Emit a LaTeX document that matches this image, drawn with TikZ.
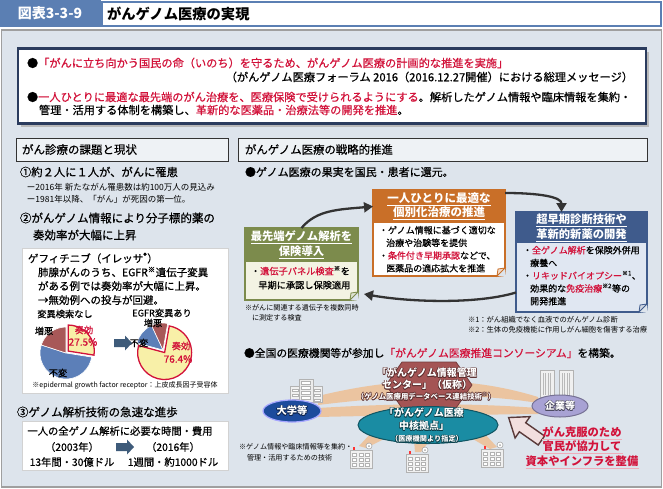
\documentclass[tikz,border=0pt]{standalone}
\usepackage{fontspec}
\setmainfont{Noto Sans CJK JP}
\newfontfamily\jm{Noto Sans CJK JP}[FakeBold=0.6]
\usetikzlibrary{arrows.meta,shapes.geometric,calc}
\definecolor{hdrblue}{HTML}{5B7FB3}
\definecolor{panelbg}{HTML}{DDE4EC}
\definecolor{jred}{HTML}{D2123A}
\definecolor{navy}{HTML}{2B3C5E}
\definecolor{orangeH}{HTML}{C96F28}
\definecolor{greenH}{HTML}{7C8B4C}
\definecolor{greenB}{HTML}{F3F3E3}
\definecolor{blueH}{HTML}{3F5B8C}
\definecolor{blueB}{HTML}{E0E7F2}
\definecolor{pieY}{HTML}{F8F0A8}
\definecolor{pieR}{HTML}{A85858}
\definecolor{pieB}{HTML}{5C7FB8}
\definecolor{arrowBlue}{HTML}{3E5B7A}
\definecolor{band}{HTML}{EBC4A0}
\definecolor{hexR}{HTML}{A45454}
\definecolor{tealC}{HTML}{1A8CA3}
\definecolor{uniBlue}{HTML}{1C4B9C}
\definecolor{corpP}{HTML}{A8A2D4}
\definecolor{pinkA}{HTML}{F2DEDE}
\definecolor{brownA}{HTML}{5A3A3A}
\newcommand{\jfs}[1]{\fontsize{#1}{#1}\selectfont}
\newcommand{\jf}[1]{\jm\fontsize{#1}{#1}\selectfont}
\newcommand{\olnode}[5]{%
  \foreach \dx/\dy in {0.6/0,-0.6/0,0/0.6,0/-0.6,0.45/0.45,-0.45/0.45,0.45/-0.45,-0.45/-0.45}{
    \node[font=#4, text=#3, inner sep=0pt, align=center] at ($(#2)+(\dx pt,\dy pt)$) {#5};}
  \node[font=#4, text=white, inner sep=0pt, align=center] (#1) at (#2) {#5};}
\tikzset{
  every node/.style={inner sep=0pt, outer sep=0pt},
  lbl/.style={anchor=west},
  curvearr/.style={draw=black!80, line width=2.3pt, -{Triangle[length=9pt,width=10pt]}},
  whitebox/.style={fill=white, draw=gray!35, line width=0.6pt, anchor=north west},
  blockarr/.pic={
    \fill[arrowBlue] (-9,-4) -- (2,-4) -- (2,-7.5) -- (9,0) -- (2,7.5) -- (2,4) -- (-9,4) -- cycle;
  },
  hosp/.pic={
    \filldraw[fill=gray!12, draw=gray!60, line width=0.5pt] (-11,-8) rectangle (11,10);
    \foreach \i in {-6.5,0,6.5}{\foreach \j in {-3.5,1.5,6.5}{
      \filldraw[fill=white, draw=gray!60, line width=0.3pt] (\i-2,\j-1.5) rectangle (\i+2,\j+1.5);}}
    \filldraw[fill=white, draw=gray!70, line width=0.6pt] (8,-12) circle[radius=3pt];
    \fill[gray!70] (8,-12) circle[radius=1pt];
    \fill[red!80] (-8,-11) rectangle (-6,-8);
  }
}
\begin{document}
\begin{tikzpicture}[x=1pt,y=-1pt]
\useasboundingbox (0,0) rectangle (663,488);
\fill[white] (0,0) rectangle (663,488);
% header
\node[fill=hdrblue, minimum width=101pt, minimum height=27pt, anchor=north west] (hdrL) at (0,0) {};
\node[font=\bfseries\jfs{14}, text=white] (hdrLt) at (50,13.5) {図表3-3-9};
\node[draw=hdrblue, line width=2pt, fill=white, minimum width=559pt, minimum height=24pt, anchor=north west] (hdrR) at (102,1.5) {};
\node[lbl, font=\bfseries\jfs{14.3}] (title) at (107,14) {がんゲノム医療の実現};
% panel
\node[fill=panelbg, draw=gray!75, line width=1.6pt, minimum width=660pt, minimum height=457pt, anchor=north west] (panel) at (1.5,30) {};
% top box
\fill[gray!55] (21,51.5) rectangle (649,126.5);
\node[draw=navy, line width=2.5pt, fill=white, minimum width=628pt, minimum height=75pt, anchor=north west] (topbox) at (18,48.5) {};
\node[lbl, font=\jf{11.2}] (m1) at (27,63) {●\textcolor{jred}{「がんに立ち向かう国民の命（いのち）を守るため、がんゲノム医療の計画的な推進を実施」}};
\node[anchor=east, font=\jf{11.2}] (m2) at (633,77) {（がんゲノム医療フォーラム 2016（2016.12.27開催）における総理メッセージ）};
\node[lbl, font=\jf{11.2}] (m3) at (27,97) {●\textcolor{jred}{一人ひとりに最適な最先端のがん治療を、医療保険で受けられるようにする}。解析したゲノム情報や臨床情報を集約・};
\node[lbl, font=\jf{11.2}] (m4) at (39,110) {管理・活用する体制を構築し、\textcolor{jred}{革新的な医薬品・治療法等の開発を推進}。};
% section headers
\node[draw=black!80, line width=1pt, fill=panelbg!50!white, minimum width=212pt, minimum height=23pt, anchor=north west] (lhead) at (16,138) {};
\node[lbl, font=\jf{11.5}] (lheadt) at (22,149.5) {がん診療の課題と現状};
\node[draw=black!80, line width=1pt, fill=panelbg!50!white, minimum width=409pt, minimum height=23pt, anchor=north west] (rhead) at (238,138) {};
\node[lbl, font=\jf{11.4}] (rheadt) at (245,149.5) {がんゲノム医療の戦略的推進};
% left column
\node[lbl, font=\jf{11.3}] (s1) at (20,172) {①約２人に１人が、がんに罹患};
\node[lbl, font=\jfs{8.5}] (s1a) at (27,187) {ー2016年 新たながん罹患数は約100万人の見込み};
\node[lbl, font=\jfs{8.5}] (s1b) at (27,199) {ー1981年以降、「がん」が死因の第一位。};
\node[lbl, font=\jf{11.5}] (s2) at (20,218) {②がんゲノム情報により分子標的薬の};
\node[lbl, font=\jf{11.5}] (s2b) at (33,235) {奏効率が大幅に上昇};
\node[whitebox, minimum width=206pt, minimum height=145pt] (gbox) at (22,248) {};
\node[lbl, font=\jf{10.5}] (g1) at (28,258) {ゲフィチニブ（イレッサ\textsuperscript{®}）};
\node[lbl, font=\jf{10.5}] (g2) at (38,272) {肺腺がんのうち、EGFR\textsuperscript{※}遺伝子変異};
\node[lbl, font=\jf{10.5}] (g3) at (38,286) {がある例では奏効率が大幅に上昇。};
\node[lbl, font=\jf{10.5}] (g4) at (38,300) {→無効例への投与が回避。};
\node[font=\jf{9.2}] (pl1) at (65,314) {変異検索なし};
\node[font=\jf{9.2}] (pl2) at (162,313) {EGFR変異あり};
% pie 1
\coordinate (p1) at (66,353);
\coordinate (p1y) at ($(p1)+(40.5:3pt)$);
\filldraw[fill=pieB, draw=white, line width=0.6pt] (p1) -- ($(p1)+(162:26pt)$) arc[start angle=162, end angle=351, radius=26pt] -- cycle;
\filldraw[fill=pieR, draw=white, line width=0.6pt] (p1) -- ($(p1)+(90:26pt)$) arc[start angle=90, end angle=162, radius=26pt] -- cycle;
\filldraw[fill=pieY, draw=jred, line width=1.3pt] (p1y) -- ($(p1y)+(-9:26pt)$) arc[start angle=-9, end angle=90, radius=26pt] -- cycle;
% pie 2
\coordinate (p2) at (163,350);
\coordinate (p2y) at ($(p2)+(-57.5:3pt)$);
\filldraw[fill=pieB, draw=white, line width=0.6pt] (p2) -- ($(p2)+(115:27pt)$) arc[start angle=115, end angle=165, radius=27pt] -- cycle;
\filldraw[fill=pieR, draw=white, line width=0.6pt] (p2) -- ($(p2)+(80:27pt)$) arc[start angle=80, end angle=115, radius=27pt] -- cycle;
\filldraw[fill=pieY, draw=jred, line width=1.3pt] (p2y) -- ($(p2y)+(-195:27pt)$) arc[start angle=-195, end angle=80, radius=27pt] -- cycle;
\node[font=\jf{9.2}] (pa1) at (44,331) {増悪};
\node[font=\jf{9.2}, text=jred] (pa2) at (84,330) {奏効};
\node[font=\jf{10}, text=jred] (pa3) at (83,342) {27.5\%};
\node[font=\jf{9.2}] (pa4) at (58,373) {不変};
\node[font=\jf{9.2}] (pb1) at (153,323) {増悪};
\node[font=\jf{9.2}] (pb2) at (139,343) {不変};
\node[font=\jf{9.2}, text=jred] (pb3) at (181,346) {奏効};
\node[font=\jf{10}, text=jred] (pb4) at (178,359) {76.4\%};
\pic at (123,343) {blockarr};
\node[font=\jfs{7}] (fn) at (125,385) {※epidermal growth factor receptor：上皮成長因子受容体};
\node[lbl, font=\jf{11.5}] (s3) at (17,412) {③ゲノム解析技術の急速な進歩};
\node[whitebox, minimum width=206pt, minimum height=49pt] (tbox) at (22,421) {};
\node[font=\jf{10.3}] (tb1) at (120,431) {一人の全ゲノム解析に必要な時間・費用};
\node[font=\jf{10.3}] (tb2) at (72,447) {（2003年）};
\node[font=\jf{10.3}] (tb3) at (173,447) {（2016年）};
\node[font=\jf{10.3}] (tb4) at (72,462) {13年間・30億ドル};
\node[font=\jf{10.3}] (tb5) at (173,462) {1週間・約1000ドル};
\pic at (125,447) {blockarr};
% right column
\node[lbl, font=\jf{11}] (r1) at (245,172) {●ゲノム医療の果実を国民・患者に還元。};
% orange box
\node[fill=orangeH, minimum width=132pt, minimum height=33pt, anchor=north west, align=center, text=white, font=\bfseries\fontsize{11.5}{14}\selectfont] (oH) at (373,190) {\underline{一人ひとりに最適な}\\\underline{個別化治療の推進}};
\node[fill=white, minimum width=132pt, minimum height=53pt, anchor=north west] (oB) at (373,223) {};
\draw[orangeH, line width=1.5pt] (oH.north west) rectangle (oB.south east);
\fill[panelbg] ($(oB.south east)+(-8pt,0)$) -- ($(oB.south east)+(1pt,-1pt)$) -- ($(oB.south east)+(0,8pt)$) -- cycle;
\filldraw[fill=orangeH!25, draw=orangeH, line width=0.8pt] ($(oB.south east)+(-8pt,0)$) -- ($(oB.south east)+(0,8pt)$) -- ($(oB.south east)+(-7pt,7pt)$) -- cycle;
\node[anchor=north west, align=left, font=\jm\fontsize{9}{12.7}\selectfont] (oBt) at (379,226) {・ゲノム情報に基づく適切な\\\hspace*{0.8em}治療や治験等を提供\\・\textcolor{jred}{条件付き早期承認}などで、\\\hspace*{0.8em}医薬品の適応拡大を推進};
% green box
\node[fill=greenH, minimum width=113pt, minimum height=34pt, anchor=north west, align=center, text=white, font=\bfseries\fontsize{11.3}{15}\selectfont] (gH) at (245,228) {\underline{最先端ゲノム解析を}\\\underline{保険導入}};
\node[fill=greenB, minimum width=113pt, minimum height=38pt, anchor=north west] (gB) at (245,262) {};
\draw[greenH, line width=1.5pt] (gH.north west) rectangle (gB.south east);
\fill[panelbg] ($(gB.south east)+(-8pt,0)$) -- ($(gB.south east)+(1pt,-1pt)$) -- ($(gB.south east)+(0,8pt)$) -- cycle;
\filldraw[fill=greenH!25, draw=greenH, line width=0.8pt] ($(gB.south east)+(-8pt,0)$) -- ($(gB.south east)+(0,8pt)$) -- ($(gB.south east)+(-7pt,7pt)$) -- cycle;
\node[anchor=north west, align=left, font=\jm\fontsize{9.2}{14}\selectfont] (gBt) at (251,266) {・\textcolor{jred}{遺伝子パネル検査}\textsuperscript{※}を\\\hspace*{0.8em}早期に承認し保険適用};
\node[lbl, font=\jfs{7.1}] (gn1) at (245,308) {※がんに関連する遺伝子を複数同時};
\node[lbl, font=\jfs{7.1}] (gn2) at (252,318) {に測定する検査};
% blue box
\node[fill=blueH, minimum width=131pt, minimum height=31pt, anchor=north west, align=center, text=white, font=\bfseries\fontsize{11.3}{15}\selectfont] (bH) at (516,212) {\underline{超早期診断技術や}\\\underline{革新的新薬の開発}};
\node[fill=blueB, minimum width=131pt, minimum height=69pt, anchor=north west] (bB) at (516,243) {};
\draw[blueH, line width=1.5pt] (bH.north west) rectangle (bB.south east);
\fill[panelbg] ($(bB.south east)+(-8pt,0)$) -- ($(bB.south east)+(1pt,-1pt)$) -- ($(bB.south east)+(0,8pt)$) -- cycle;
\filldraw[fill=blueH!25, draw=blueH, line width=0.8pt] ($(bB.south east)+(-8pt,0)$) -- ($(bB.south east)+(0,8pt)$) -- ($(bB.south east)+(-7pt,7pt)$) -- cycle;
\node[anchor=north west, align=left, font=\jm\fontsize{9}{12.75}\selectfont] (bBt) at (523,246) {・\textcolor{jred}{全ゲノム解析}を保険外併用\\\hspace*{0.8em}療養へ\\・\textcolor{jred}{リキッドバイオプシー}\textsuperscript{※1}、\\\hspace*{0.8em}効果的な\textcolor{jred}{免疫治療}\textsuperscript{※2}等の\\\hspace*{0.8em}開発推進};
\node[lbl, font=\jfs{7.3}] (bn1) at (468,320) {※1：がん組織でなく血液でのがんゲノム診断};
\node[lbl, font=\jfs{7.3}] (bn2) at (468,330) {※2：生体の免疫機能に作用しがん細胞を傷害する治療};
% cycle arrows
\draw[curvearr] (gH.north) .. controls +(15,-18) and +(-35,3) .. (oH.west);
\draw[curvearr] ([yshift=-3pt]oH.north east) .. controls +(35,0) and +(0,-15) .. ([xshift=-20pt]bH.north);
\draw[curvearr] ([yshift=-15pt]bB.west) .. controls +(-40,12) and +(45,8) .. ([xshift=6pt,yshift=-13pt]gB.east);
% consortium
\node[lbl, font=\jf{10.8}] (c1) at (244,353) {●全国の医療機関等が参加し\textcolor{jred}{「がんゲノム医療推進コンソーシアム」}を構築。};
\fill[band] (318,396) .. controls (400,376) and (470,376) .. (538,397) -- (538,403) .. controls (470,392) and (400,395) .. (318,405) -- cycle;
\fill[band] (318,408) .. controls (400,403) and (470,403) .. (538,408) -- (538,414) .. controls (470,415) and (400,415) .. (318,417) -- cycle;
\fill[band] (372,432) -- (390,436) -- (366,448) -- (359,446) -- cycle;
\fill[band] (414,440) -- (430,440) -- (421,452) -- (415,452) -- cycle;
\fill[band] (466,435) -- (482,431) -- (497,447) -- (490,449) -- cycle;
\filldraw[fill=hexR, draw=hexR!70!black, line width=0.8pt] (402,362) -- (456,362) -- (472,385) -- (456,408) -- (402,408) -- (386,385) -- cycle;
\node[ellipse, fill=tealC, draw=tealC!60!black, line width=1pt, minimum width=140pt, minimum height=37pt] (core) at (428,425) {};
% university building
\begin{scope}[shift={(306,391)}]
  \filldraw[fill=gray!12, draw=gray!60, line width=0.5pt] (-16,-5) rectangle (-6,11);
  \filldraw[fill=gray!12, draw=gray!60, line width=0.5pt] (6,-5) rectangle (16,11);
  \filldraw[fill=gray!15, draw=gray!60, line width=0.5pt] (-7,-12) rectangle (7,11);
  \foreach \j in {-8,-3,2,7}{\filldraw[fill=white, draw=gray!60, line width=0.3pt] (-4.5,\j-1.5) rectangle (4.5,\j+1.5);}
  \foreach \j in {-1,4,9}{\filldraw[fill=white, draw=gray!60, line width=0.3pt] (-14,\j-1.3) rectangle (-8,\j+1.3);
                          \filldraw[fill=white, draw=gray!60, line width=0.3pt] (8,\j-1.3) rectangle (14,\j+1.3);}
\end{scope}
\node[ellipse, fill=uniBlue, draw=blue!35, line width=1.2pt, minimum width=58pt, minimum height=22pt] (univ) at (292,411) {};
% company towers
\foreach \tx in {547,566}{
  \filldraw[fill=gray!12, draw=gray!60, line width=0.5pt] (\tx-7,370) rectangle (\tx+7,397);
  \foreach \k in {-4,-1.5,1,3.5}{\draw[gray!55, line width=0.4pt] (\tx+\k,373) -- (\tx+\k,395);}
}
\node[ellipse, fill=corpP, draw=corpP!70!black, line width=1pt, minimum width=56pt, minimum height=22pt] (corp) at (560,406) {};
\pic at (361,458) {hosp};
\pic at (417,462) {hosp};
\pic at (492,457) {hosp};
\olnode{hx1}{427,373}{hexR!55!black}{\bfseries\jfs{10}}{「がんゲノム情報管理}
\olnode{hx2}{427,385}{hexR!55!black}{\bfseries\jfs{10}}{センター」（仮称）}
\olnode{hx3}{426,396.5}{hexR!55!black}{\bfseries\jfs{7.4}}{（ゲノム医療用データベース連結技術\textsuperscript{※}）}
\olnode{ce1}{424,413}{tealC!45!black}{\bfseries\jfs{10}}{「がんゲノム医療}
\olnode{ce2}{424,426}{tealC!45!black}{\bfseries\jfs{10}}{中核拠点」}
\olnode{ce3}{427,439}{tealC!45!black}{\bfseries\jfs{7.2}}{（医療機関より指定）}
\olnode{un1}{292,411}{uniBlue!50!black}{\bfseries\jfs{10.3}}{大学等}
\olnode{co1}{560,406}{corpP!45!black}{\bfseries\jfs{10}}{企業等}
% pink block arrow
\begin{scope}[shift={(525,429)}, rotate=145]
  \filldraw[fill=pinkA, draw=brownA, line width=1.4pt, line join=miter] (-20,-5.5) -- (3,-5.5) -- (3,-13) -- (20,0) -- (3,13) -- (3,5.5) -- (-20,5.5) -- cycle;
\end{scope}
\node[font=\bfseries\jfs{11.3}, text=jred] (rt1) at (582,432) {がん克服のため};
\node[font=\bfseries\jfs{11.3}, text=jred] (rt2) at (582,446) {官民が協力して};
\node[font=\bfseries\jfs{11.3}, text=jred] (rt3) at (582,461) {資本やインフラを整備};
\draw[jred!35, line width=0.9pt] (rt1.south west) ++(0,-2pt) -- ++(80,0);
\draw[jred!35, line width=0.9pt] (rt2.south west) ++(0,-2pt) -- ++(80,0);
\draw[jred!35, line width=0.9pt] (rt3.south west) ++(0,-2pt) -- ++(113,0);
\node[lbl, font=\jfs{7.1}] (cn1) at (239,447) {※ゲノム情報や臨床情報等を集約・};
\node[lbl, font=\jfs{7.1}] (cn2) at (247,458) {管理・活用するための技術};
\end{tikzpicture}
\end{document}
